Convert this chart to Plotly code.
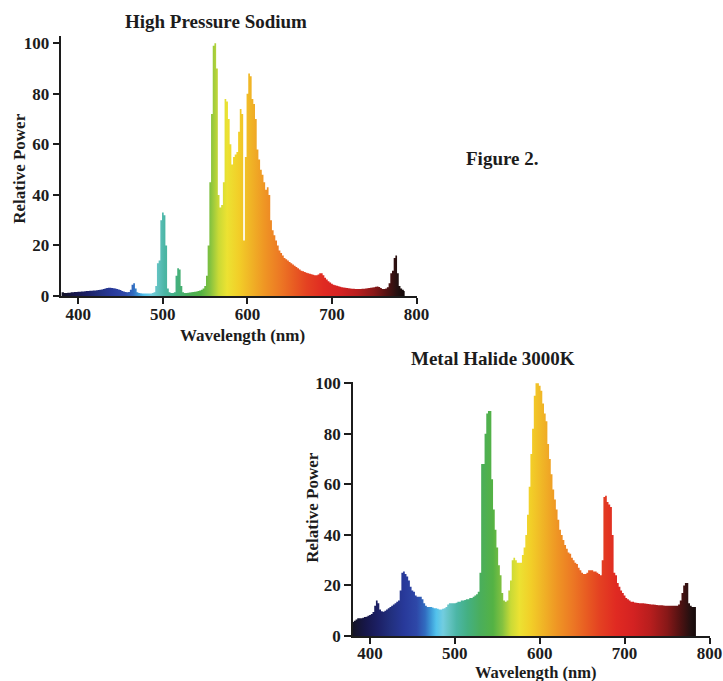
import plotly.graph_objects as go

# ---------------- data ----------------
hps_wavelength = list(range(380, 788, 2))          # nm sampling grid, 380..786
hps_power = [
    1.5, 1.5, 1.2, 1.2, 1.3, 1.3, 1.5, 1.5, 1.6, 1.6,       # 380-398
    1.7, 1.7, 1.8, 1.8, 1.9, 2.0, 2.0, 2.1, 2.1, 2.2,       # 400-418
    2.2, 2.3, 2.4, 2.5, 2.6, 2.8, 3.0, 3.2, 3.3, 3.3,       # 420-438
    3.2, 3.1, 3.0, 2.8, 2.6, 2.4, 2.0, 1.8, 1.6, 1.5,       # 440-458
    1.6, 2.5, 4.5, 5.0, 3.0, 1.5, 1.2, 1.1, 1.0, 1.0,       # 460-478
    1.0, 1.0, 1.0, 1.0, 1.2, 1.5, 4, 13, 14, 30,            # 480-498
    33, 32, 20, 3, 1.5, 1.2, 1.2, 1.5, 8, 11,               # 500-518
    10.5, 4, 1.5, 1.2, 1.2, 1.3, 1.4, 1.5, 1.6, 1.7,        # 520-538
    1.8, 2, 2.2, 2.5, 3, 4, 8, 20, 45, 72,                  # 540-558
    99, 100, 90, 40, 35, 36, 45, 78, 77, 70,                # 560-578
    60, 52, 55, 56, 57, 65, 74, 72, 22, 55,                 # 580-598
    80, 88, 87, 78, 76, 70, 58, 54, 50, 48,                 # 600-618
    45, 42, 43, 40, 30, 26, 24, 22, 20, 18,                 # 620-638
    17, 16, 15, 14.5, 14, 13.5, 13, 12.5, 12, 11.5,         # 640-658
    11, 10.5, 10, 9.8, 9.5, 9.2, 9, 8.8, 8.6, 8.4,          # 660-678
    8.2, 8.2, 8.5, 9, 9, 8.2, 7.2, 6.5, 5.8, 5.3,           # 680-698
    4.8, 4.5, 4.3, 4.1, 3.9, 3.7, 3.5, 3.4, 3.3, 3.2,       # 700-718
    3.1, 3.0, 2.9, 2.9, 2.8, 2.8, 2.8, 2.8, 2.9, 2.9,       # 720-738
    3.0, 3.1, 3.2, 3.3, 3.4, 3.5, 3.7, 3.8, 3.6, 3.2,       # 740-758
    2.8, 2.8, 3, 3.5, 5, 9, 10, 15, 16, 9,                  # 760-778
    4, 3, 2.5, 2,                                           # 780-786
]

mh_wavelength = list(range(380, 786, 2))           # nm sampling grid, 380..784
mh_power = [
    5.5, 6, 6.5, 7, 7, 7, 7.2, 7.5, 7.6, 8,                 # 380-398
    8.3, 8.7, 9.5, 12, 14, 13, 10.5, 9.8, 9.6, 10,          # 400-418
    10.5, 11, 11.5, 12, 12.5, 13, 13.5, 14, 18, 25,         # 420-438
    25.5, 24.5, 23.5, 22, 19.5, 18, 17.5, 16, 15.5, 15.5,   # 440-458
    15.5, 14.5, 13, 12, 11.5, 11.5, 11.5, 11.3, 11, 11,     # 460-478
    10.8, 10.5, 10.5, 10.8, 11, 11.5, 12.5, 13, 13, 13,     # 480-498
    13, 13.2, 13.5, 13.5, 14, 14, 14.2, 14.5, 14.5, 15,     # 500-518
    15, 15.5, 16, 16.5, 17.5, 25, 68, 68, 80, 88,           # 520-538
    89, 89, 62, 50, 42, 35, 28, 24, 17, 14,                 # 540-558
    13.5, 14, 18, 22, 30, 31, 30, 29, 29, 29,               # 560-578
    32, 35, 40, 48, 59, 72, 82, 95, 100, 100,               # 580-598
    99, 97, 92, 88, 85, 76, 70, 64, 58, 54,                 # 600-618
    50, 46, 42, 40, 38, 36, 34.5, 33, 32.5, 31,             # 620-638
    30, 29, 28.5, 27, 26, 25, 24.5, 24.5, 25, 26,           # 640-658
    26, 26, 25.5, 25.5, 25, 24.5, 24, 30, 55, 55.5,         # 660-678
    53, 52, 51, 40, 25, 24, 21, 19.5, 18, 17,               # 680-698
    16, 15, 14.5, 14, 13.5, 13.5, 13.3, 13.2, 13.1, 13,     # 700-718
    13, 13, 12.9, 12.8, 12.7, 12.6, 12.5, 12.5, 12.4, 12.3, # 720-738
    12.2, 12.2, 12.2, 12.1, 12, 12, 12, 12, 12, 12,         # 740-758
    12, 12, 12.5, 14, 17, 20, 21, 21, 13, 12,               # 760-778
    11.5, 11.5, 11.5,                                       # 780-784
]

x_ticks = [400, 500, 600, 700, 800]
y_ticks = [0, 20, 40, 60, 80, 100]

titles = ["High Pressure Sodium", "Metal Halide 3000K"]
x_title = "Wavelength (nm)"
y_title = "Relative Power"
figure_label = "Figure 2."

# ---------------- style ----------------
W, H = 723, 681
SERIF = "Liberation Serif"
INK = "#1c1c1c"

# spectral colour ramp (wavelength nm -> colour)
spectrum_stops = [
    (380, "#141426"), (395, "#17174a"), (410, "#1c2066"), (425, "#22307f"),
    (440, "#28399a"), (455, "#2e48a8"), (465, "#316cc0"), (472, "#3e9cd8"),
    (478, "#52c2ec"), (486, "#72cde0"), (494, "#62c2c0"), (502, "#4cb6a6"),
    (515, "#44b082"), (530, "#4aae5c"), (545, "#54b244"), (556, "#84c240"),
    (566, "#cada36"), (576, "#ece232"), (590, "#f2ce28"), (605, "#f0b226"),
    (620, "#ef9624"), (640, "#ec7624"), (655, "#e85c22"), (670, "#e44222"),
    (690, "#e02a22"), (710, "#d42222"), (730, "#b81e1e"), (750, "#881818"),
    (765, "#521212"), (778, "#221010"), (786, "#120808"),
]
g0, g1 = 380, 786
spectrum_scale = [[(nm - g0) / (g1 - g0), c] for nm, c in spectrum_stops]


def px_x(p):
    return p / W


def px_y(p):
    return (H - p) / H


fig = go.Figure()

for xs, ys, xa, ya in [(hps_wavelength, hps_power, "x", "y"),
                       (mh_wavelength, mh_power, "x2", "y2")]:
    fig.add_trace(go.Scatter(
        x=xs, y=ys, mode="lines",
        line=dict(width=0, shape="hvh", color="rgba(0,0,0,0)"),
        fill="tozeroy",
        fillgradient=dict(type="horizontal", colorscale=spectrum_scale,
                          start=g0, stop=g1),
        xaxis=xa, yaxis=ya, showlegend=False, hoverinfo="skip",
    ))

tick_font = dict(family=SERIF, size=17, color=INK, weight="bold")
common_x = dict(range=[380, 800], tickvals=x_ticks, showline=True, linecolor=INK,
                linewidth=1.6, ticks="outside", ticklen=6, tickwidth=1.5,
                tickcolor=INK, showgrid=False, zeroline=False, tickfont=tick_font,
                fixedrange=True, automargin=False)
common_y = dict(tickvals=y_ticks, showline=True, linecolor=INK, linewidth=1.6,
                ticks="outside", ticklen=7, tickwidth=1.5, tickcolor=INK,
                showgrid=False, zeroline=False, tickfont=tick_font, fixedrange=True,
                automargin=False)

fig.update_layout(
    width=W, height=H, autosize=False,
    margin=dict(l=0, r=0, t=0, b=0, pad=0),
    paper_bgcolor="white", plot_bgcolor="white",
    xaxis=dict(domain=[px_x(61.4), px_x(416.5)], anchor="y",
               ticklabelstandoff=-4, **common_x),
    yaxis=dict(domain=[px_y(296), px_y(35.7)], range=[0, 103], anchor="x", **common_y),
    xaxis2=dict(domain=[px_x(353), px_x(709.5)], anchor="y2",
                ticklabelstandoff=-5, **common_x),
    yaxis2=dict(domain=[px_y(636), px_y(381.7)], range=[0, 100.6], anchor="x2", **common_y),
)

title_font = dict(family=SERIF, size=19, color=INK, weight="bold")
label_font = dict(family=SERIF, size=17, color=INK, weight="bold")
bottom_label_font = dict(family=SERIF, size=16.5, color=INK, weight="bold")

annotations = [
    dict(text=titles[0], x=px_x(215.8), y=px_y(21.5), font=title_font),
    dict(text=titles[1], x=px_x(493.3), y=px_y(358), font=title_font),
    dict(text=figure_label, x=px_x(502), y=px_y(158), font=title_font),
    dict(text=x_title, x=px_x(242.5), y=px_y(335), font=label_font),
    dict(text=x_title, x=px_x(535), y=px_y(672), font=bottom_label_font),
    dict(text=y_title, x=px_x(18.8), y=px_y(169), font=label_font, textangle=-90),
    dict(text=y_title, x=px_x(311.7), y=px_y(508), font=label_font, textangle=-90),
]
for a in annotations:
    fig.add_annotation(xref="paper", yref="paper", xanchor="center", yanchor="middle",
                       showarrow=False, **a)

# the page's default 8px body margin would shift the figure; remove it
fig.write_html("out.html", config={"displayModeBar": False},
               post_script="document.body.style.margin='0px';")
